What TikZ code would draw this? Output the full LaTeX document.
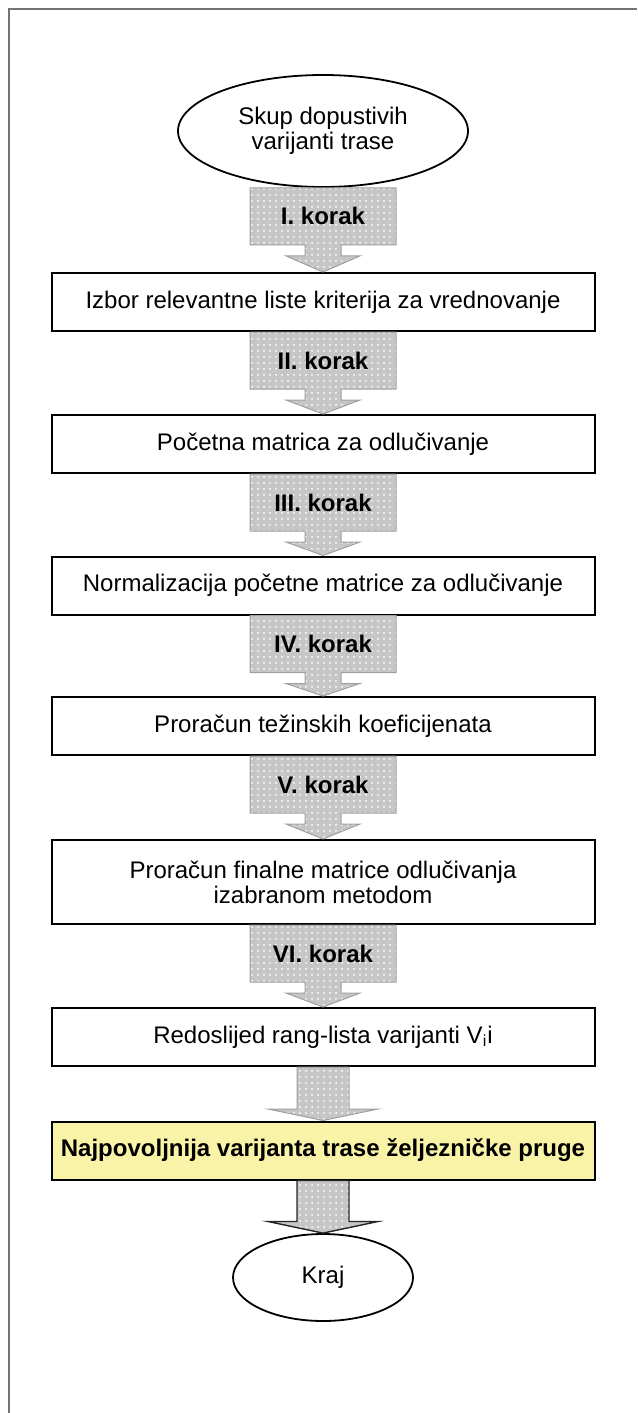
\documentclass[tikz,border=0pt]{standalone}
\usepackage{fontspec}
\setmainfont{Liberation Sans}
\usetikzlibrary{shapes.geometric,patterns}
\definecolor{zutaboja}{RGB}{248,243,166}

\begin{document}
\begin{tikzpicture}[x=0.5pt, y=-0.5pt,
    every node/.style={font=\fontsize{12}{12.6}\selectfont, align=center},
    blok/.style={draw, line width=1pt, minimum width=271.5pt, minimum height=29pt, inner sep=0pt},
    elipsa/.style={ellipse, draw, line width=0.9pt, inner sep=0pt},
    korakstrelica/.style={draw=gray!75, line width=0.5pt, preaction={fill=gray!45}, pattern=dots, pattern color=white},
    korak/.style={font=\bfseries\fontsize{12}{12.6}\selectfont}]
  \useasboundingbox (0,0) rectangle (637,1413);
  \draw[black!55, line width=1pt] (637,9) -- (9,9) -- (9,1413);

  % blokovi
  \node[elipsa, minimum width=145pt, minimum height=56pt] (s) at (323,131) {Skup dopustivih\\varijanti trase};
  \node[blok] (b1) at (323,302) {Izbor relevantne liste kriterija za vrednovanje};
  \node[blok] (b2) at (323,444) {Početna matrica za odlučivanje};
  \node[blok] (b3) at (323,585.5) {Normalizacija početne matrice za odlučivanje};
  \node[blok] (b4) at (323,726) {Proračun težinskih koeficijenata};
  \node[blok, minimum height=42pt] (b5) at (323,882) {Proračun finalne matrice odlučivanja\\izabranom metodom};
  \node[blok] (b6) at (323,1037) {Redoslijed rang-lista varijanti V\textsubscript{i}i};
  \node[blok, fill=zutaboja, korak] (b7) at (323,1150.5) {Najpovoljnija varijanta trase željezničke pruge};
  \node[elipsa, minimum width=90pt, minimum height=43.5pt] (k) at (323,1277.5) {Kraj};

  % koraci
  \foreach \a/\b/\t in {s/b1/I., b1/b2/II., b2/b3/III., b3/b4/IV., b4/b5/V., b5/b6/VI.} {
    \begin{scope}[shift={(\a.south)}]
      \draw[korakstrelica] (-73,0) -- (73,0) -- (73,57) -- (18,57) -- (18,68) -- (37,68) -- (\b.north) -- (-37,68) -- (-18,68) -- (-18,57) -- (-73,57) -- cycle;
      \node[korak] (t\b) at (0,28.5) {\t\ korak};
    \end{scope}
  }

  \begin{scope}[shift={(b6.south)}]
    \draw[korakstrelica] (-26,0) -- (26,0) -- (26,42) -- (55,42) -- (b7.north) -- (-55,42) -- (-26,42) -- cycle;
  \end{scope}
  \begin{scope}[shift={(b7.south)}]
    \draw[korakstrelica, draw=black!85, line width=0.7pt] (-26,0) -- (26,0) -- (26,41) -- (55,41) -- (k.north) -- (-55,41) -- (-26,41) -- cycle;
  \end{scope}
\end{tikzpicture}
\end{document}
